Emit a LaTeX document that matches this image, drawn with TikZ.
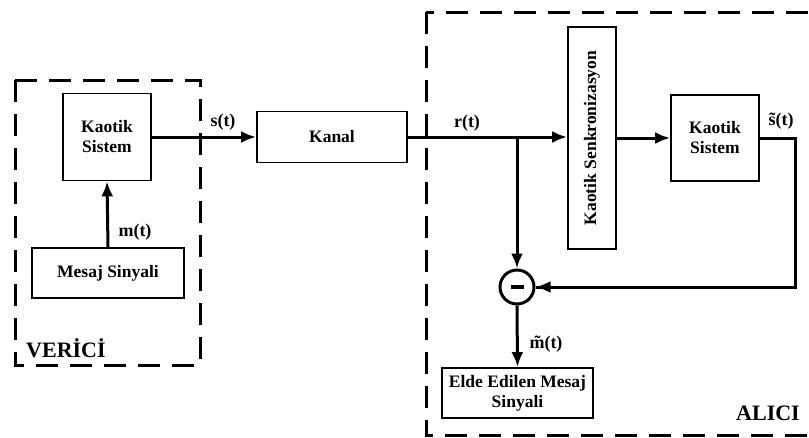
\documentclass[tikz,border=0pt]{standalone}
\usepackage{fontspec}
\setmainfont{Liberation Serif}
\usetikzlibrary{arrows.meta}
\begin{document}
\begin{tikzpicture}[x=1pt,y=-1pt,
  blk/.style={draw, line width=1.8pt, inner sep=0pt, align=center, font=\bfseries\fontsize{17.5}{20}\selectfont},
  btxt/.style={inner sep=0pt, font=\bfseries\fontsize{17.5}{20}\selectfont},
  conn/.style={line width=3pt},
  arr/.style={conn, -{Latex[length=15pt,width=12pt]}},
  lbl/.style={font=\bfseries\fontsize{18}{20}\selectfont, inner sep=0pt},
  grp/.style={line width=3pt, dash pattern=on 22pt off 12pt},
  grplbl/.style={font=\bfseries\fontsize{22}{24}\selectfont, inner sep=0pt}]
\clip (0,0) rectangle (809,437);
\fill[white] (0,0) rectangle (809,437);
% group boxes
\draw[grp] (15,80) rectangle (200,365);
\draw[grp] (426,12) rectangle (840,435);
\node[grplbl, anchor=west] (ver) at (26,348) {VER\.{I}C\.{I}};
\node[grplbl, anchor=east] (alc) at (800,413) {ALICI};
% blocks
\node[blk, minimum width=88pt, minimum height=87pt] (ks1) at (107,137) {Kaotik\\Sistem};
\node[blk, minimum width=152pt, minimum height=50pt] (ms) at (108,273) {Mesaj Sinyali};
\node[blk, minimum width=150pt, minimum height=51pt] (kanal) at (332,137) {Kanal};
\node[blk, minimum width=48pt, minimum height=222pt] (sync) at (592,138) {};
\node[btxt, rotate=90] (synctxt) at (sync.center) {Kaotik Senkronizasyon};
\node[blk, minimum width=88pt, minimum height=86pt] (ks2) at (715,138) {Kaotik\\Sistem};
\node[draw, circle, line width=3pt, minimum size=34pt, inner sep=0pt] (sub) at (517,287) {};
\fill (sub.center) ++(-6.5,-2.2) rectangle ++(13,4.4);
\node[blk, minimum width=151pt, minimum height=50pt] (elde) at (517.5,393) {Elde Edilen Mesaj\\Sinyali};
% connectors
\draw[arr] (ms.north) -- (ks1.south);
\draw[arr] (ks1.east) -- (kanal.west);
\coordinate (br) at (517,137);
\coordinate (fb1) at (795,138);
\coordinate (fb2) at (795,287);
\draw[conn] (kanal.east) -- (br);
\draw[arr] (br) -- (sync.west |- br);
\draw[arr] (sync.east |- ks2.west) -- (ks2.west);
\draw[arr] (br) -- (sub.north);
\draw[conn, line join=miter] (ks2.east) -- (fb1) -- (fb2) -- (sub.east);
\draw[arr] (fb2) -- (sub.east);
\draw[arr] (sub.south) -- (elde.north);
% labels
\node[lbl] (st) at (223,122) {s(t)};
\node[lbl] (mt) at (135,232) {m(t)};
\node[lbl] (rt) at (467,123) {r(t)};
\node[lbl] (sht) at (781,121) {\~{s}(t)};
\node[lbl] (mht) at (546,344) {\~{m}(t)};
\end{tikzpicture}
\end{document}
